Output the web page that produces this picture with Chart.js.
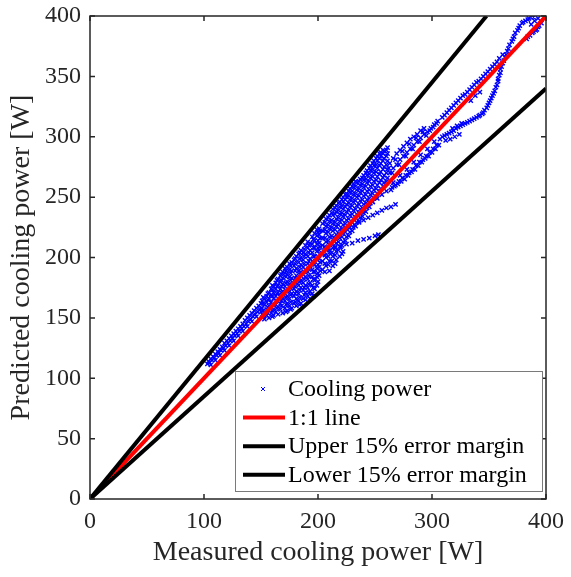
<!DOCTYPE html>
<html>
<head>
<meta charset="utf-8">
<script src="https://cdn.jsdelivr.net/npm/chart.js@4.4.1/dist/chart.umd.min.js"></script>
<style>
  html, body { margin: 0; padding: 0; background: #fff; }
  canvas { display: block; }
</style>
</head>
<body>
<canvas id="chart" width="571" height="577"></canvas>
<script>
const xTicks = [0, 100, 200, 300, 400];
const yTicks = [0, 50, 100, 150, 200, 250, 300, 350, 400];
const seriesLabels = ['Cooling power', '1:1 line', 'Upper 15% error margin', 'Lower 15% error margin'];

// reference lines [measured, predicted]
const oneToOne = [[0, 0], [400, 400]];
const upperMargin = [[0, 0], [347.8, 400]];
const lowerMargin = [[0, 0], [400, 340]];

// [measured, predicted]
const coolingPower = [
  [103,112],[104,114],[105,113],[106,116],[107,115],[108,118],[109,117],[110,120],[111,119],[112,122],
  [113,121],[114,124],[115,123],[116,126],[117,125],[118,129],[119,127],[120,131],[121,129],[122,133],
  [123,131],[124,135],[125,133],[126,137],[127,135],[128,139],[129,137],[130,141],[131,139],[132,143],
  [133,141],[134,145],[135,143],[136,148],[137,145],[138,150],[139,147],[140,152],[141,149],[142,154],
  [143,151],[144,156],[145,153],[146,158],[147,155],[148,160],[149,157],[150,162],
  [106,111],[110,115],[114,119],[118,123],[122,127],[126,131],[130,135],[134,139],[138,143],[142,147],[146,151],[150,155],
  [151,153],[151,158],[151,164],[153,149],[153,155],[153,161],[153,166],[155,152],[155,157],[155,163],[155,168],
  [157,150],[157,160],[157,166],[157,171],[159,154],[159,163],[159,169],[159,174],
  [161,152],[161,157],[161,166],[161,171],[161,176],[163,155],[163,161],[163,168],[163,174],[163,179],
  [165,153],[165,159],[165,171],[165,177],[165,182],[167,157],[167,162],[167,168],[167,174],[167,180],[167,185],
  [169,154],[169,166],[169,172],[169,178],[169,183],[169,188],[171,158],[171,164],[171,170],[171,176],[171,187],[171,191],
  [173,156],[173,162],[173,168],[173,180],[173,186],[173,192],[175,160],[175,166],[175,172],[175,178],[175,184],[175,190],[175,195],
  [177,158],[177,170],[177,177],[177,183],[177,189],[177,196],[179,162],[179,168],[179,174],[179,181],[179,193],[179,198],
  [181,160],[181,166],[181,172],[181,179],[181,185],[181,191],[181,201],[183,164],[183,170],[183,177],[183,183],[183,189],[183,196],[183,203],
  [185,162],[185,175],[185,181],[185,188],[185,194],[185,200],[185,206],[187,166],[187,173],[187,179],[187,186],[187,192],[187,198],[187,204],
  [189,165],[189,171],[189,177],[189,184],[189,190],[189,203],[189,210],[191,168],[191,175],[191,182],[191,188],[191,195],[191,201],[191,208],[191,213],
  [193,166],[193,172],[193,179],[193,193],[193,199],[193,206],[193,212],[195,170],[195,177],[195,184],[195,190],[195,197],[195,204],[195,211],[195,217],
  [197,174],[197,181],[197,188],[197,194],[197,201],[197,208],[197,214],[197,220],[199,177],[199,184],[199,191],[199,198],[199,205],[199,211],[199,218],[199,223],
  [152,151],[152,156],[152,162],[152,167],[156,154],[156,159],[156,165],[156,170],
  [160,151],[160,156],[160,161],[160,168],[160,173],[160,177],[164,158],[164,164],[164,170],[164,176],[164,181],
  [168,160],[168,164],[168,171],[168,176],[168,181],[168,186],[172,155],[172,161],[172,167],[172,173],[172,179],[172,184],[172,189],
  [176,157],[176,163],[176,169],[176,175],[176,181],[176,187],[176,193],[180,163],[180,170],[180,176],[180,183],[180,189],[180,195],[180,199],
  [184,161],[184,167],[184,173],[184,180],[184,186],[184,192],[184,199],[184,204],[188,169],[188,175],[188,182],[188,188],[188,195],[188,201],[188,207],
  [192,171],[192,178],[192,185],[192,191],[192,197],[192,204],[192,210],[196,168],[196,175],[196,182],[196,188],[196,195],[196,201],[196,208],[196,215],
  [200,180],[200,187],[200,194],[200,201],[200,208],[200,214],[200,221],
  [201,185],[201,192],[201,199],[201,206],[201,212],[201,219],[201,224],[204,190],[204,197],[204,203],[204,210],[204,216],[204,222],[204,228],
  [207,193],[207,200],[207,207],[207,213],[207,220],[207,226],[207,232],[210,189],[210,197],[210,204],[210,211],[210,217],[210,224],[210,230],[210,235],
  [213,193],[213,201],[213,208],[213,215],[213,222],[213,228],[213,235],[213,240],[216,198],[216,205],[216,212],[216,219],[216,226],[216,232],[216,238],[216,243],
  [219,201],[219,209],[219,216],[219,223],[219,230],[219,236],[219,242],[219,246],[222,205],[222,213],[222,220],[222,227],[222,234],[222,240],[222,246],[222,250],
  [225,217],[225,224],[225,231],[225,238],[225,244],[225,250],[225,253],[228,221],[228,228],[228,235],[228,242],[228,248],[228,254],[228,257],
  [231,225],[231,232],[231,239],[231,246],[231,252],[231,258],[231,261],[234,229],[234,236],[234,243],[234,250],[234,256],[234,262],
  [237,233],[237,240],[237,247],[237,254],[237,260],[237,265],[240,237],[240,244],[240,251],[240,258],[240,264],[240,268],
  [243,241],[243,248],[243,255],[243,262],[243,268],[243,272],[246,245],[246,252],[246,259],[246,266],[246,272],[246,276],
  [249,249],[249,256],[249,263],[249,270],[249,276],[249,280],[252,253],[252,260],[252,267],[252,274],[252,280],[252,284],
  [255,257],[255,264],[255,271],[255,278],[255,284],[255,287],[258,262],[258,268],[258,275],[258,282],[258,288],
  [261,266],[261,273],[261,280],[261,286],[261,291],
  [202,189],[202,196],[202,203],[202,209],[202,216],[202,222],[206,188],[206,195],[206,202],[206,209],[206,216],[206,223],[206,229],
  [209,194],[209,201],[209,207],[209,214],[209,221],[209,227],[209,233],[212,197],[212,204],[212,211],[212,218],[212,225],[212,231],[212,237],
  [215,195],[215,202],[215,209],[215,216],[215,223],[215,229],[215,236],[215,241],[218,206],[218,213],[218,220],[218,227],[218,233],[218,239],[218,245],
  [221,203],[221,210],[221,217],[221,224],[221,231],[221,237],[221,243],[221,248],[224,214],[224,221],[224,228],[224,235],[224,242],[224,248],[224,252],
  [227,218],[227,225],[227,232],[227,239],[227,245],[227,251],[227,255],[230,222],[230,229],[230,236],[230,243],[230,249],[230,255],[230,259],
  [233,226],[233,233],[233,240],[233,247],[233,253],[233,259],[233,263],[236,230],[236,237],[236,244],[236,251],[236,257],[236,263],
  [239,234],[239,241],[239,248],[239,255],[239,261],[239,266],[242,238],[242,245],[242,252],[242,259],[242,265],[242,270],
  [245,242],[245,249],[245,256],[245,263],[245,269],[245,274],[248,246],[248,253],[248,260],[248,267],[248,273],[248,278],
  [251,250],[251,257],[251,264],[251,271],[251,277],[251,282],[254,255],[254,262],[254,269],[254,276],[254,282],[254,286],
  [257,259],[257,266],[257,273],[257,280],[257,286],[257,289],[260,263],[260,270],[260,277],[260,284],[260,289],
  [205,205],[210,206],[215,208],[220,209],[225,211],[230,212],[235,214],[240,215],[245,216],[250,218],[253,219],
  [228,225],[232,227],[236,229],[240,231],[244,233],[248,235],[252,237],[256,239],[260,241],[264,242],[268,244],
  [240,239],[244,243],[248,246],[252,249],[256,252],[260,255],
  [263,270],[263,278],[266,274],[266,282],[269,277],[269,286],[272,281],[272,289],[275,284],[275,292],[278,287],[278,295],
  [281,290],[281,298],[284,293],[284,300],[287,296],[287,302],[290,299],[290,305],[293,302],[293,307],[296,304],[299,307],[302,310],[305,313],
  [262,274],[265,270],[268,281],[271,277],[274,288],[277,284],[280,294],[283,290],[286,299],[289,296],[292,304],[295,301],[298,305],[301,308],[304,311],
  [264,256],[267,259],[270,261],[273,263],[276,265],[279,268],[282,271],[285,273],[288,276],[291,279],[294,282],[297,284],[300,287],[303,290],[306,293],
  [265,258],[268,260],[271,263],[274,266],[277,268],[280,270],[283,273],[286,276],[289,279],[292,281],[295,284],[298,287],[301,290],[304,293],
  [266,262],[272,268],[278,273],[284,279],[290,285],[296,290],[302,296],
  [307,298],[311,301],[315,303],[319,305],[323,308],[327,310],[331,312],[335,314],[339,316],[342,318],
  [309,300],[313,302],[317,304],[321,307],[325,309],[329,311],[333,313],[337,315],[341,317],[344,319],
  [312,297],[316,298],[320,300],[324,302],[318,307],[322,309],[326,311],
  [345,320],[348,324],[350,328],[352,332],[354,336],[356,341],[358,346],[359,351],[360,356],[362,361],[364,366],
  [366,371],[368,376],[371,381],[373,386],[376,390],[379,394],[382,396],[385,398],[389,399],
  [346,322],[349,326],[351,330],[353,334],[355,338],[357,343],[358,348],[360,353],[361,358],[363,363],[365,368],
  [367,373],[370,379],[372,383],[375,388],[377,392],[380,395],[384,397],[387,399],
  [309,316],[313,320],[317,324],[321,328],[325,332],[329,335],[333,339],[337,343],[341,346],[345,350],[349,354],[353,358],[357,362],
  [311,318],[315,322],[319,326],[323,330],[327,334],[331,337],[335,341],[339,345],[343,348],[347,352],[351,356],[355,360],[359,365],[362,368],
  [334,330],[338,334],[342,337],
  [383,381],[386,384],[389,387],[392,389],[394,392],[384,383],[388,386],[391,388],[393,391],[396,394],[387,393],[390,396],[393,398]
];

const serif = '"Liberation Serif", "Times New Roman", serif';
const axisColor = '#262626';
const toXY = arr => arr.map(([x, y]) => ({ x, y }));

const boxAndLegend = {
  id: 'boxAndLegend',
  afterDatasetsDraw(chart) {
    const { ctx, chartArea: a, scales: { x, y } } = chart;
    ctx.save();
    ctx.strokeStyle = axisColor;
    ctx.lineWidth = 1.5;
    ctx.strokeRect(a.left, a.top, a.right - a.left, a.bottom - a.top);
    ctx.beginPath();
    xTicks.forEach(v => {
      const px = x.getPixelForValue(v);
      ctx.moveTo(px, a.bottom); ctx.lineTo(px, a.bottom - 5);
      ctx.moveTo(px, a.top); ctx.lineTo(px, a.top + 5);
    });
    yTicks.forEach(v => {
      const py = y.getPixelForValue(v);
      ctx.moveTo(a.left, py); ctx.lineTo(a.left + 5, py);
      ctx.moveTo(a.right, py); ctx.lineTo(a.right - 5, py);
    });
    ctx.stroke();
    ctx.restore();
  },
  afterDraw(chart) {
    const { ctx, chartArea: a } = chart;
    const ds = chart.data.datasets;
    const w = 307, h = 120;
    const left = a.right - 4 - w, top = a.bottom - 8 - h;
    ctx.save();
    ctx.fillStyle = '#fff';
    ctx.fillRect(left, top, w, h);
    ctx.strokeStyle = '#7a7a7a';
    ctx.lineWidth = 1;
    ctx.strokeRect(left + 0.5, top + 0.5, w, h);
    ctx.font = '24px ' + serif;
    ctx.textBaseline = 'middle';
    ctx.fillStyle = '#000';
    const rows = [ds[3], ds[0], ds[1], ds[2]];
    rows.forEach((d, i) => {
      const cy = top + 18 + i * 28.6;
      ctx.strokeStyle = d.borderColor;
      if (i === 0) {
        const mx = left + 28;
        ctx.lineWidth = 1;
        ctx.beginPath();
        ctx.moveTo(mx - 2, cy - 2); ctx.lineTo(mx + 2, cy + 2);
        ctx.moveTo(mx - 2, cy + 2); ctx.lineTo(mx + 2, cy - 2);
        ctx.stroke();
      } else {
        ctx.lineWidth = 4;
        ctx.beginPath();
        ctx.moveTo(left + 8, cy); ctx.lineTo(left + 50, cy);
        ctx.stroke();
      }
      ctx.fillText(d.label, left + 53, cy + 1);
    });
    ctx.restore();
  }
};

new Chart(document.getElementById('chart'), {
  type: 'scatter',
  data: {
    datasets: [
      {
        label: seriesLabels[1],
        data: toXY(oneToOne),
        showLine: true, borderColor: '#ff0000', borderWidth: 4,
        pointRadius: 0, order: 1
      },
      {
        label: seriesLabels[2],
        data: toXY(upperMargin),
        showLine: true, borderColor: '#000000', borderWidth: 4,
        pointRadius: 0, order: 0
      },
      {
        label: seriesLabels[3],
        data: toXY(lowerMargin),
        showLine: true, borderColor: '#000000', borderWidth: 4,
        pointRadius: 0, order: 0
      },
      {
        label: seriesLabels[0],
        data: toXY(coolingPower),
        pointStyle: 'crossRot', pointRadius: 3, borderWidth: 1.4,
        borderColor: '#0000ff', backgroundColor: '#0000ff', order: 2
      }
    ]
  },
  options: {
    responsive: false,
    animation: false,
    devicePixelRatio: 1,
    layout: { padding: { top: 16, right: 25, left: 0, bottom: 0 } },
    plugins: { legend: { display: false }, tooltip: { enabled: false } },
    scales: {
      x: {
        type: 'linear', min: 0, max: 400,
        afterBuildTicks: s => { s.ticks = xTicks.map(v => ({ value: v })); },
        afterFit: s => { s.height = 78; s.paddingLeft = 0; s.paddingRight = 0; },
        grid: { display: false, drawTicks: false },
        border: { display: false },
        ticks: { color: axisColor, font: { family: serif, size: 24 }, padding: 8, maxRotation: 0 },
        title: { display: true, text: 'Measured cooling power [W]', color: axisColor,
                 font: { family: serif, size: 28 }, padding: { top: 0, bottom: 8 } }
      },
      y: {
        type: 'linear', min: 0, max: 400,
        afterBuildTicks: s => { s.ticks = yTicks.map(v => ({ value: v })); },
        afterFit: s => { s.width = 90; s.paddingTop = 0; s.paddingBottom = 0; },
        grid: { display: false, drawTicks: false },
        border: { display: false },
        ticks: { color: axisColor, font: { family: serif, size: 24 }, padding: 9 },
        title: { display: true, text: 'Predicted cooling power [W]', color: axisColor,
                 font: { family: serif, size: 28 }, padding: { top: 5, bottom: 0 } }
      }
    }
  },
  plugins: [boxAndLegend]
});
</script>
</body>
</html>
